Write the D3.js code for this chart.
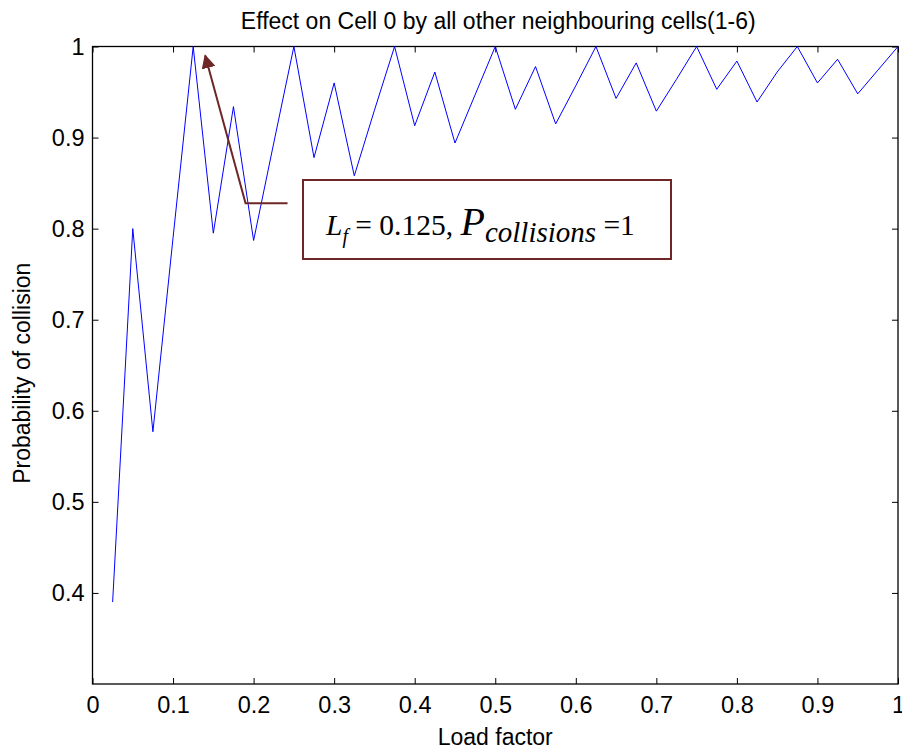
<!DOCTYPE html>
<html>
<head>
<meta charset="utf-8">
<script src="https://cdn.jsdelivr.net/npm/d3@7"></script>
<style>
  body { margin: 0; background: #fff; }
  svg { display: block; }
  .tick text { font-family: "Liberation Sans", Arial, sans-serif; font-size: 23.5px; fill: #000; }
  .tick line { stroke: #000; }
</style>
</head>
<body>
<div id="plot"></div>
<script>
// load factor (x) and probability of collision (y)
var loadFactor = [0.025, 0.05, 0.075, 0.1, 0.125, 0.15, 0.175, 0.2, 0.225, 0.25,
    0.275, 0.3, 0.325, 0.35, 0.375, 0.4, 0.425, 0.45, 0.475, 0.5,
    0.525, 0.55, 0.575, 0.6, 0.625, 0.65, 0.675, 0.7, 0.725, 0.75,
    0.775, 0.8, 0.825, 0.85, 0.875, 0.9, 0.925, 0.95, 0.975, 1.0];
var pCollision = [0.39, 0.80, 0.577, 0.79, 1.0, 0.795, 0.934, 0.787, 0.894, 1.0,
    0.878, 0.960, 0.858, 0.930, 1.0, 0.913, 0.972, 0.894, 0.947, 1.0,
    0.931, 0.978, 0.915, 0.957, 1.0, 0.943, 0.982, 0.929, 0.964, 1.0,
    0.953, 0.984, 0.939, 0.972, 1.0, 0.960, 0.986, 0.948, 0.974, 1.0];

var xTicks = [0, 0.1, 0.2, 0.3, 0.4, 0.5, 0.6, 0.7, 0.8, 0.9, 1];
var xTickLabels = ["0", "0.1", "0.2", "0.3", "0.4", "0.5", "0.6", "0.7", "0.8", "0.9", "1"];
var yTicks = [0.4, 0.5, 0.6, 0.7, 0.8, 0.9, 1];
var yTickLabels = ["0.4", "0.5", "0.6", "0.7", "0.8", "0.9", "1"];

// annotated point
var markLf = 0.125, markP = 1;

const W = 902, H = 749;
const margin = {top: 46.5, right: 4, bottom: 65, left: 92.5},
    width = W - margin.left - margin.right,
    height = H - margin.top - margin.bottom;

const svg = d3.select("#plot")
    .append("svg")
    .attr("width", W)
    .attr("height", H);

const g = svg.append("g")
    .attr("transform", "translate(" + margin.left + "," + margin.top + ")");

let x = d3.scaleLinear().domain([0, 1]).range([0, width]);
let y = d3.scaleLinear().domain([0.3, 1]).range([height, 0]);

// axes, ticks pointing inward
g.append("g")
    .attr("transform", "translate(0," + height + ")")
    .call(d3.axisBottom(x).tickValues(xTicks)
        .tickFormat((d, i) => xTickLabels[i]).tickSize(-6).tickPadding(12))
    .call(a => a.select(".domain").remove());
g.append("g")
    .call(d3.axisTop(x).tickValues(xTicks).tickFormat("").tickSize(-6))
    .call(a => a.select(".domain").remove());
g.append("g")
    .call(d3.axisLeft(y).tickValues(yTicks)
        .tickFormat((d, i) => yTickLabels[i]).tickSize(-6).tickPadding(8))
    .call(a => a.select(".domain").remove());
g.append("g")
    .attr("transform", "translate(" + width + ",0)")
    .call(d3.axisRight(y).tickValues(yTicks).tickFormat("").tickSize(-6))
    .call(a => a.select(".domain").remove());

g.append("rect")
    .attr("width", width)
    .attr("height", height)
    .attr("fill", "none")
    .attr("stroke", "#000")
    .attr("stroke-width", 1.3);

// line
var pts = loadFactor.map((d, i) => ({x: d, y: pCollision[i]}));
g.append("path")
    .datum(pts)
    .attr("fill", "none")
    .attr("stroke", "#0000ff")
    .attr("stroke-width", 1)
    .attr("d", d3.line()
        .x(d => x(d.x))
        .y(d => y(d.y)));

// labels
svg.append("text")
    .attr("x", margin.left + width / 2 + 3)
    .attr("y", 29)
    .attr("text-anchor", "middle")
    .style("font-family", "Liberation Sans, Arial, sans-serif")
    .style("font-size", "23px")
    .text("Effect on Cell 0 by all other neighbouring cells(1-6)");

svg.append("text")
    .attr("x", margin.left + width / 2)
    .attr("y", 745)
    .attr("text-anchor", "middle")
    .style("font-family", "Liberation Sans, Arial, sans-serif")
    .style("font-size", "23px")
    .text("Load factor");

svg.append("text")
    .attr("transform", "translate(30," + (margin.top + height / 2 + 8) + ") rotate(-90)")
    .attr("text-anchor", "middle")
    .style("font-family", "Liberation Sans, Arial, sans-serif")
    .style("font-size", "23px")
    .text("Probability of collision");

// annotation arrow
var annColor = "#6e2626";
svg.append("defs").append("marker")
    .attr("id", "head")
    .attr("viewBox", "0 0 10 10")
    .attr("refX", 9).attr("refY", 5)
    .attr("markerWidth", 7).attr("markerHeight", 7)
    .attr("markerUnits", "strokeWidth")
    .attr("orient", "auto")
    .append("path")
    .attr("d", "M0,0 L10,5 L0,10 z")
    .attr("fill", annColor);

var tip = {x: x(markLf) + 12, y: y(markP) + 9};
var elbow = {x: x(0.19), y: y(0.828)};
g.append("path")
    .attr("d", "M" + (elbow.x + 42) + "," + elbow.y + " L" + elbow.x + "," + elbow.y + " L" + tip.x + "," + tip.y)
    .attr("fill", "none")
    .attr("stroke", annColor)
    .attr("stroke-width", 2)
    .attr("marker-end", "url(#head)");

// annotation box
var box = svg.append("g");
box.append("rect")
    .attr("x", 303).attr("y", 180)
    .attr("width", 368).attr("height", 79)
    .attr("fill", "#fff")
    .attr("stroke", annColor)
    .attr("stroke-width", 2);

var t = box.append("text")
    .attr("x", 326).attr("y", 235)
    .style("font-family", "Liberation Serif, Times New Roman, serif")
    .style("font-size", "29.5px");
t.append("tspan").style("font-style", "italic").text("L");
t.append("tspan").attr("dy", 8).style("font-style", "italic").style("font-size", "20px").text("f");
t.append("tspan").attr("dy", -8).text(" = " + markLf + ", ");
t.append("tspan").style("font-style", "italic").style("font-size", "40px").text("P");
t.append("tspan").attr("dy", 7).style("font-style", "italic").style("font-size", "29px").text("collisions");
t.append("tspan").attr("dy", -7).text(" =" + markP);
</script>
</body>
</html>
